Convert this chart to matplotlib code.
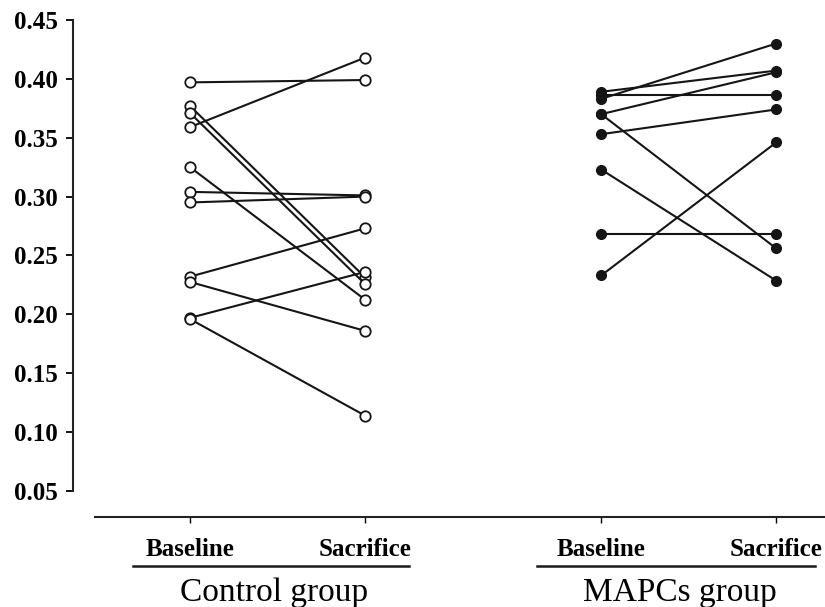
import matplotlib
matplotlib.use("Agg")
import matplotlib.pyplot as plt

# --- data ---
time_labels = ["Baseline", "Sacrifice"]
group_labels = ["Control group", "MAPCs group"]

# control group: paired values (baseline -> sacrifice)
control_baseline = [0.397, 0.359, 0.377, 0.371, 0.325, 0.304, 0.295, 0.232, 0.2275, 0.197, 0.196]
control_sacrifice = [0.399, 0.418, 0.2315, 0.2258, 0.2125, 0.301, 0.300, 0.273, 0.186, 0.236, 0.114]

# MAPCs group: paired values (baseline -> sacrifice)
mapcs_baseline = [0.389, 0.383, 0.386, 0.370, 0.370, 0.353, 0.323, 0.268, 0.233]
mapcs_sacrifice = [0.407, 0.430, 0.386, 0.4056, 0.256, 0.374, 0.2286, 0.268, 0.346]

# x positions of the four time points
x_ctrl = [1.0, 2.0]
x_mapc = [3.35, 4.35]

serif = ["Liberation Serif", "DejaVu Serif"]

fig = plt.figure(figsize=(8.25, 6.07), dpi=100)
ax = fig.add_axes([0.0885, 0.1483, 0.9115, 0.8188])

for b, s in zip(control_baseline, control_sacrifice):
    ax.plot(x_ctrl, [b, s], color="#151515", lw=1.5, marker="o", ms=7.5,
            mfc="white", mec="#151515", mew=1.3, clip_on=False)

for b, s in zip(mapcs_baseline, mapcs_sacrifice):
    ax.plot(x_mapc, [b, s], color="#151515", lw=1.5, marker="o", ms=7,
            mfc="#151515", mec="#151515", clip_on=False)

ax.set_xlim(0.3314, 4.629)
ax.set_ylim(0.0279, 0.45)

ax.spines["top"].set_visible(False)
ax.spines["right"].set_visible(False)
ax.spines["left"].set_bounds(0.05, 0.45)
ax.spines["bottom"].set_bounds(0.457, 4.629)
for sp in ("left", "bottom"):
    ax.spines[sp].set_linewidth(1.5)
    ax.spines[sp].set_color("#222222")

ax.set_yticks([0.05, 0.10, 0.15, 0.20, 0.25, 0.30, 0.35, 0.40, 0.45])
ax.set_yticklabels([f"{v:.2f}" for v in ax.get_yticks()])
ax.set_xticks(x_ctrl + x_mapc)
ax.set_xticklabels(time_labels * 2)

ax.tick_params(axis="y", direction="out", length=5, width=1.3, pad=6)
ax.tick_params(axis="x", direction="out", length=4, width=1.0, pad=11)
for lab in ax.get_yticklabels() + ax.get_xticklabels():
    lab.set_family(serif)
    lab.set_fontweight("bold")
    lab.set_fontsize(18)

# group underlines and labels below the axis
trans = ax.get_xaxis_transform()
spans = [(0.674, 2.251), (2.983, 4.571)]
for (x0, x1), name in zip(spans, group_labels):
    ax.plot([x0, x1], [-0.0986, -0.0986], color="#1a1a1a", lw=1.8,
            transform=trans, clip_on=False)
    ax.text((x0 + x1) / 2 + 0.02, -0.152, name, transform=trans, ha="center",
            va="center", fontsize=24, family=serif)

fig.savefig("out.png", dpi=100)
